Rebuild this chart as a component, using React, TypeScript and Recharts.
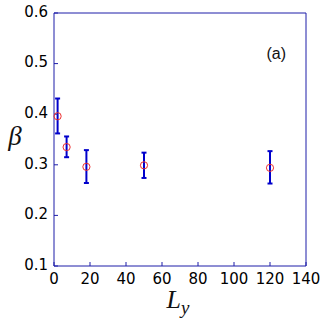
import { ScatterChart, Scatter, XAxis, YAxis, ErrorBar, ReferenceDot } from "recharts"

// L_y positions and fitted beta with error range
const lyValues = [2, 7, 18, 50, 120]
const betaValues = [0.396, 0.335, 0.296, 0.299, 0.294]
const betaLow = [0.362, 0.315, 0.264, 0.274, 0.263]
const betaHigh = [0.431, 0.356, 0.329, 0.324, 0.327]

const xTicks = [0, 20, 40, 60, 80, 100, 120, 140]
const yTicks = [0.1, 0.2, 0.3, 0.4, 0.5, 0.6]

const axisColor = "#1c1ca8"
const tickFamily = "DejaVu Sans, sans-serif"

const data = lyValues.map((ly, i) => ({
  ly,
  beta: betaValues[i],
  err: [betaValues[i] - betaLow[i], betaHigh[i] - betaValues[i]],
}))

const OpenCircle = (props: any) => {
  const { cx, cy } = props
  return <circle cx={cx} cy={cy} r={3.6} fill="none" stroke="#ee3030" strokeWidth={1} />
}

const XTick = (props: any) => (
  <text x={props.x} y={props.y} dy="0.71em" textAnchor="middle" fill="#000" fontSize={15} fontFamily={tickFamily}>
    {props.payload.value}
  </text>
)

const YTick = (props: any) => (
  <text x={props.x} y={props.y - 1.5} dy="0.355em" textAnchor="end" fill="#000" fontSize={15} fontFamily={tickFamily}>
    {Number(props.payload.value).toFixed(1)}
  </text>
)

const noLabel = () => ""

export default function App() {
  return (
    <div style={{ position: "absolute", left: 0, top: 0 }}>
      <ScatterChart width={332} height={320} margin={{ top: 12, right: 25, bottom: 0, left: 0 }}>
        <XAxis
          xAxisId={0}
          type="number"
          dataKey="ly"
          domain={[0, 140]}
          ticks={xTicks}
          height={54}
          stroke={axisColor}
          tickSize={-4}
          tickMargin={11}
          tick={<XTick />}
          label={{
            content: (p: any) => {
              const vb = p.viewBox
              return (
                <text
                  x={vb.x + vb.width / 2 - 2}
                  y={vb.y + 42}
                  textAnchor="middle"
                  fontFamily="Liberation Serif, serif"
                  fontStyle="italic"
                  fill="#111"
                >
                  <tspan fontSize={26}>L</tspan>
                  <tspan fontSize={19} dy={6}>y</tspan>
                </text>
              )
            },
          }}
        />
        <XAxis
          xAxisId="top"
          orientation="top"
          type="number"
          domain={[0, 140]}
          ticks={xTicks}
          height={1}
          stroke={axisColor}
          tickSize={-4}
          tickFormatter={noLabel}
        />
        <YAxis
          yAxisId={0}
          type="number"
          dataKey="beta"
          domain={[0.1, 0.6]}
          ticks={yTicks}
          width={54}
          stroke={axisColor}
          tickSize={-4}
          tickMargin={10}
          tick={<YTick />}
          label={{
            content: (p: any) => {
              const vb = p.viewBox
              return (
                <text
                  x={vb.x + 15}
                  y={vb.y + 132}
                  textAnchor="middle"
                  fontFamily="Liberation Serif, serif"
                  fontStyle="italic"
                  fontSize={27}
                  fill="#111"
                >
                  β
                </text>
              )
            },
          }}
        />
        <YAxis
          yAxisId="right"
          orientation="right"
          type="number"
          domain={[0.1, 0.6]}
          ticks={yTicks}
          width={1}
          stroke={axisColor}
          tickSize={-4}
          tickFormatter={noLabel}
        />
        <Scatter data={data} xAxisId={0} yAxisId={0} shape={<OpenCircle />} isAnimationActive={false}>
          <ErrorBar dataKey="err" direction="y" width={2.5} stroke="#0000cc" strokeWidth={2} isAnimationActive={false} />
        </Scatter>
        <ReferenceDot
          xAxisId={0}
          yAxisId={0}
          x={123.5}
          y={0.521}
          r={0}
          label={{ value: "(a)", position: "center", fill: "#111", fontSize: 16, fontFamily: "Liberation Sans, Arial, sans-serif" }}
        />
      </ScatterChart>
    </div>
  )
}
